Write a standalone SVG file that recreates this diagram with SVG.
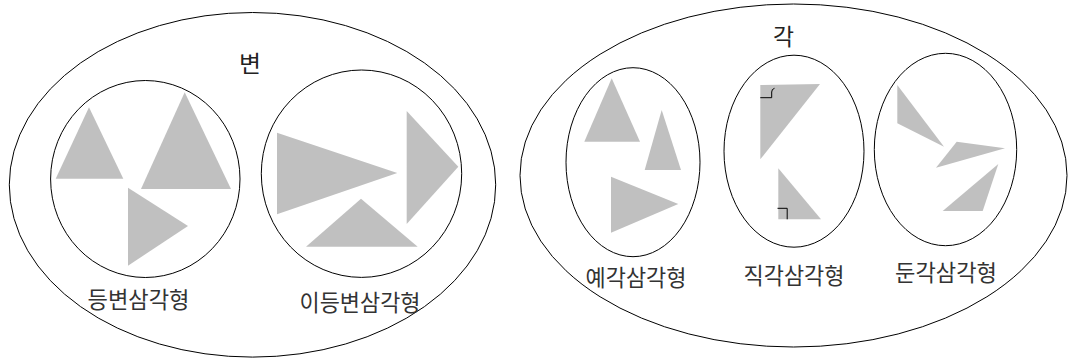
<svg xmlns="http://www.w3.org/2000/svg" width="1068" height="358" viewBox="0 0 1068 358">
<style>
.ring{fill:none;stroke:#000;stroke-width:1}
.tri{fill:#c0c0c0;stroke:none}
.mark{fill:none;stroke:#000;stroke-width:1}
.lbl{font-family:"Noto Sans CJK KR","Noto Sans CJK SC",sans-serif;font-size:23px;fill:#333;text-anchor:middle}
.ttl{font-family:"Noto Sans CJK KR","Noto Sans CJK SC",sans-serif;font-size:23px;fill:#222;text-anchor:middle}
</style>
<rect width="1068" height="358" fill="#fff"/>
<g id="side-set">
  <ellipse class="ring" cx="252.5" cy="184.8" rx="243.2" ry="172.3"/>
  <text class="ttl" x="250" y="72" textLength="22" lengthAdjust="spacingAndGlyphs">변</text>
</g>
<g id="equilateral">
  <ellipse class="ring" cx="145.3" cy="179" rx="94.7" ry="98.5"/>
  <polygon class="tri" points="89,107.3 55.7,178.7 123.3,178.7"/>
  <polygon class="tri" points="184.7,92.3 141,189 231,189"/>
  <polygon class="tri" points="128,187.7 188,226 128,265.7"/>
  <text class="lbl" x="138.5" y="308" textLength="102" lengthAdjust="spacingAndGlyphs">등변삼각형</text>
</g>
<g id="isosceles">
  <ellipse class="ring" cx="361.5" cy="173.7" rx="100.2" ry="103.7"/>
  <polygon class="tri" points="277,132.7 397.3,173 277,214.3"/>
  <polygon class="tri" points="406.7,111 458.3,166.7 406.7,224"/>
  <polygon class="tri" points="361,198.7 306,246.7 417.7,246.7"/>
  <text class="lbl" x="360" y="311" textLength="121" lengthAdjust="spacingAndGlyphs">이등변삼각형</text>
</g>
<g id="angle-set">
  <ellipse class="ring" cx="793.5" cy="175.5" rx="273.5" ry="171.5"/>
  <text class="ttl" x="783.5" y="45" textLength="21" lengthAdjust="spacingAndGlyphs">각</text>
</g>
<g id="acute">
  <ellipse class="ring" cx="633" cy="162.2" rx="67" ry="94.5"/>
  <polygon class="tri" points="611.7,78.3 584.3,141.7 640,141.7"/>
  <polygon class="tri" points="661.7,110 644.7,170 681,170"/>
  <polygon class="tri" points="611,176.7 678.3,204 611,232.7"/>
  <text class="lbl" x="636" y="286" textLength="101" lengthAdjust="spacingAndGlyphs">예각삼각형</text>
</g>
<g id="right">
  <ellipse class="ring" cx="794" cy="151.2" rx="70" ry="96"/>
  <polygon class="tri" points="760.3,85 820,84 760.3,159.3"/>
  <polygon class="tri" points="778.3,168.3 821,219.3 778.3,219.3"/>
  <path class="mark" d="M760.3,97.7 H771.7 V92 Q771.7,89 774.5,88.3"/>
  <path class="mark" d="M777.5,208.3 H787.2 V219.3"/>
  <text class="lbl" x="794" y="284" textLength="101" lengthAdjust="spacingAndGlyphs">직각삼각형</text>
</g>
<g id="obtuse">
  <ellipse class="ring" cx="945.5" cy="149.5" rx="71.2" ry="96.2"/>
  <polygon class="tri" points="897.3,85 944,146.7 897.3,123.3"/>
  <polygon class="tri" points="956.7,141.7 1005,148.3 936,167.7"/>
  <polygon class="tri" points="998.3,164 982.7,211 942.7,211"/>
  <text class="lbl" x="946" y="281" textLength="102" lengthAdjust="spacingAndGlyphs">둔각삼각형</text>
</g>
<g id="connectors"></g>
</svg>
